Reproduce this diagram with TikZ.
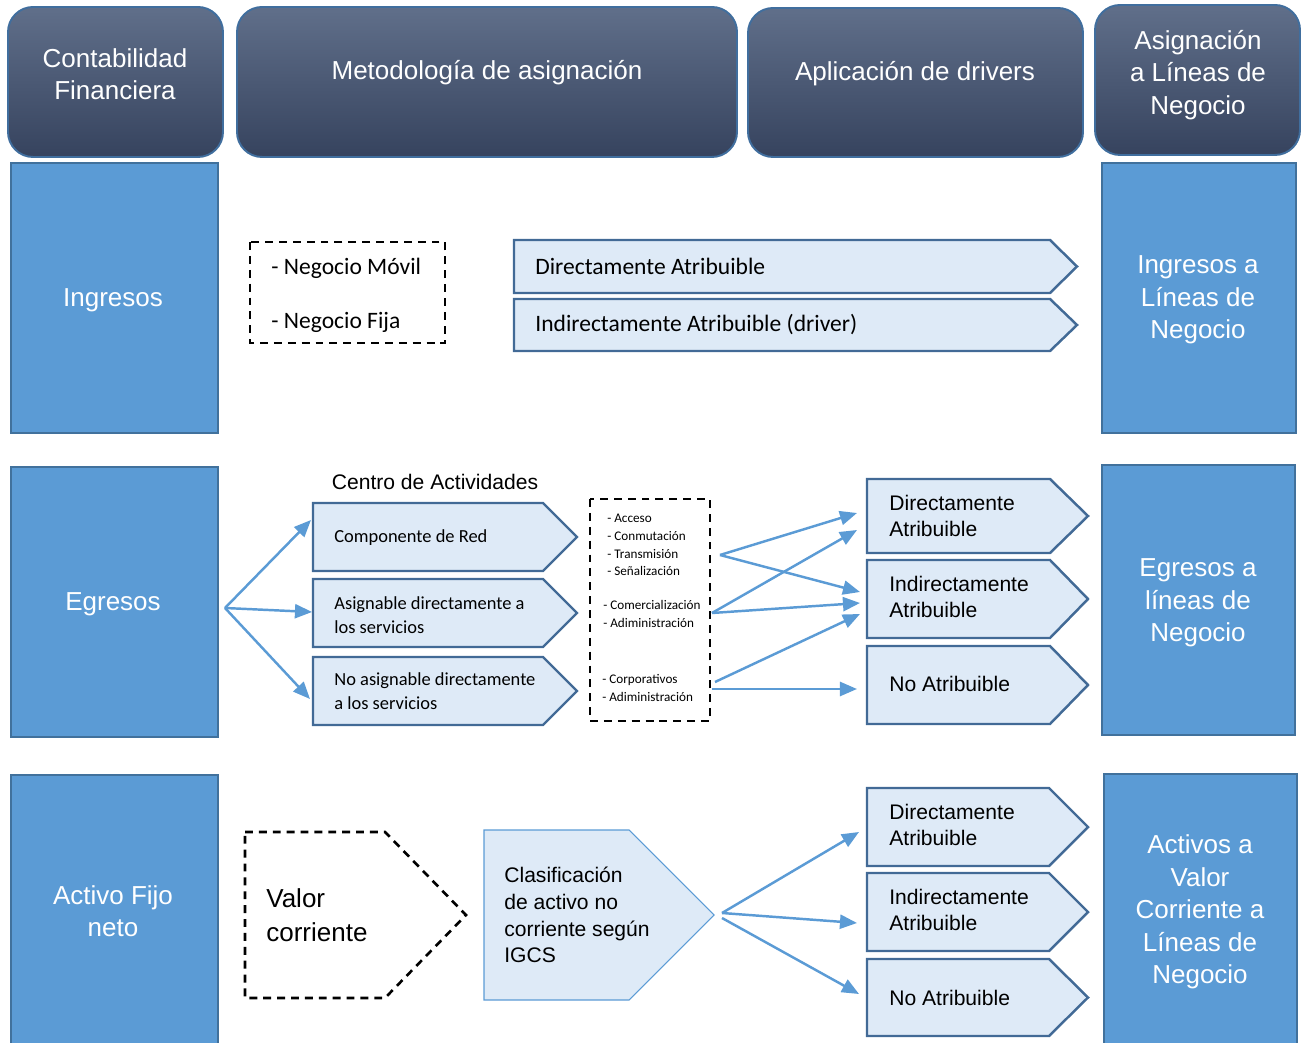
\documentclass[tikz,border=0pt]{standalone}
\usepackage{fontspec}
\setmainfont{Liberation Sans}
\newfontfamily\calibri{Carlito}
\usetikzlibrary{arrows.meta}

\definecolor{headtop}{RGB}{96,111,138}
\definecolor{headbot}{RGB}{54,67,94}
\definecolor{headline}{RGB}{64,110,158}
\definecolor{boxblue}{RGB}{91,155,213}
\definecolor{boxline}{RGB}{65,113,156}
\definecolor{chevfill}{RGB}{222,234,247}
\definecolor{chevline}{RGB}{66,106,150}

\def\chevron[#1](#2,#3)(#4,#5)(#6){\draw[#1] (#2,#3) -- (#6,#3) -- (#4,{(#3+#5)/2}) -- (#6,#5) -- (#2,#5) -- cycle;}

\tikzset{
	headbox/.style={draw=headline, line width=1.1pt, rounded corners=0.5cm, top color=headtop, bottom color=headbot},
	bluebox/.style={draw=boxline, line width=1.2pt, fill=boxblue},
	chevbox/.style={draw=chevline, line width=1.4pt, fill=chevfill},
	dashbox/.style={draw=black, line width=1.5pt, dash pattern=on 4.5pt off 3.4pt},
	headtext/.style={text=white, align=center, yshift=-1.7pt, font=\fontsize{14.8}{18.5}\selectfont},
	artext/.style={anchor=west, align=left, inner sep=0pt, font=\fontsize{12}{14.8}\selectfont},
	caltext/.style={anchor=west, align=left, inner sep=0pt, font=\calibri\fontsize{13.4}{16}\selectfont},
	calsmall/.style={anchor=west, align=left, inner sep=0pt, font=\calibri\fontsize{10.5}{13.7}\selectfont},
	caltiny/.style={anchor=west, align=left, inner sep=0pt, font=\calibri\fontsize{7.5}{10.1}\selectfont},
	arr/.style={draw=boxblue, line width=1.4pt, -{Triangle[length=9.7pt,width=8pt]}},
}

\begin{document}
\begin{tikzpicture}[x=0.02cm, y=-0.02cm]
		%%%%% START %%%%%
		\useasboundingbox (0,0) rectangle (1305,1043);
		\clip (0,0) rectangle (1305,1043);
		
		%%%%% HEADERS %%%%%
		\draw[headbox] (8,7) rectangle (223,157);
		\draw[headbox] (237,7) rectangle (737,157);
		\draw[headbox] (748,8) rectangle (1083,157);
		\draw[headbox] (1095,5) rectangle (1300,155);
		\node[headtext] (contab) at (115,71) {Contabilidad\\Financiera};
		\node[headtext] (metod) at (487,70) {Metodología de asignación};
		\node[headtext] (aplic) at (915,71) {Aplicación de drivers};
		\node[headtext] (asign) at (1198,72) {Asignación\\a Líneas de\\Negocio};
		
		%%%%% INGRESOS %%%%%
		\draw[bluebox] (11,163) rectangle (218,433);
		\node[headtext] (ingr) at (113,297) {Ingresos};
		\draw[dashbox] (250,242) rectangle (445,343);
		\node[caltext] (movil) at (271,268) {- Negocio Móvil};
		\node[caltext] (fija) at (271,322) {- Negocio Fija};
		\chevron[chevbox](514,240)(1077,293)(1050)
		\chevron[chevbox](514,299)(1077,351)(1050)
		\node[caltext] (directo) at (535,266) {Directamente Atribuible};
		\node[caltext] (indirecto) at (535,325) {Indirectamente Atribuible (driver)};
		\draw[bluebox] (1102,163) rectangle (1296,433);
		\node[headtext] (ingrlin) at (1198,297) {Ingresos a\\Líneas de\\Negocio};
		
		%%%%% EGRESOS %%%%%
		\draw[bluebox] (11,467) rectangle (218,737);
		\node[headtext] (egr) at (113,601) {Egresos};
		\node[font=\fontsize{12}{14.8}\selectfont] (centro) at (435,482) {Centro de Actividades};
		\chevron[chevbox](313,503)(577,571)(543)
		\chevron[chevbox](313,579)(577,647)(543)
		\chevron[chevbox](313,657)(577,725)(543)
		\node[calsmall] (compred) at (334,538) {Componente de Red};
		\node[calsmall] (asigdir) at (334,615) {Asignable directamente a\\los servicios};
		\node[calsmall] (noasig) at (334,691) {No asignable directamente\\a los servicios};
		
		\draw[dashbox] (590,499) rectangle (710,721);
		\node[caltiny] (red) at (607,545) {- Acceso\\- Conmutación\\- Transmisión\\- Señalización};
		\node[caltiny] (comer) at (603,614) {- Comercialización\\- Adiministración};
		\node[caltiny] (corp) at (602,688) {- Corporativos\\- Adiministración};
		
		\chevron[chevbox](867,479)(1088,553)(1050)
		\chevron[chevbox](867,560)(1088,638)(1050)
		\chevron[chevbox](867,646)(1088,724)(1050)
		\node[artext] (egdir) at (889,516) {Directamente\\Atribuible};
		\node[artext] (egind) at (889,597) {Indirectamente\\Atribuible};
		\node[artext] (egno) at (889,684) {No Atribuible};
		\draw[bluebox] (1102,465) rectangle (1295,735);
		\node[headtext] (egrlin) at (1198,600) {Egresos a\\líneas de\\Negocio};
		
		\coordinate (egfork) at (225,608);
		\coordinate (inRed) at (311,520);
		\coordinate (inAsig) at (312,612);
		\coordinate (inNoasig) at (310,699);
		\draw[arr] (egfork) -- (inRed);
		\draw[arr] (egfork) -- (inAsig);
		\draw[arr] (egfork) -- (inNoasig);
		
		\coordinate (outRed) at (720,555);
		\coordinate (outComer) at (712,613);
		\coordinate (outCorp) at (715,682);
		\coordinate (outAdm) at (712,689);
		\coordinate (inDirA) at (857,513);
		\coordinate (inDirB) at (857,530);
		\coordinate (inIndA) at (860,592);
		\coordinate (inIndB) at (860,603);
		\coordinate (inIndC) at (860,614);
		\coordinate (inNo) at (857,689);
		\draw[arr] (outRed) -- (inDirA);
		\draw[arr] (outRed) -- (inIndA);
		\draw[arr] (outComer) -- (inDirB);
		\draw[arr] (outComer) -- (inIndB);
		\draw[arr] (outCorp) -- (inIndC);
		\draw[arr] (outAdm) -- (inNo);
		
		%%%%% ACTIVO FIJO %%%%%
		\draw[bluebox] (11,775) rectangle (218,1060);
		\node[headtext] (activo) at (113,908) {Activo Fijo\\neto};
		\chevron[dashbox](245,832)(466,998)(385)
		\node[anchor=west, align=left, inner sep=0pt, font=\fontsize{14.8}{19.2}\selectfont] (valor) at (266,915) {Valor\\corriente};
		\chevron[draw=boxblue, line width=0.6pt, fill=chevfill](484,830)(714,1000)(629)
		\node[artext, font=\fontsize{12}{15.2}\selectfont] (clasif) at (504,915) {Clasificación\\de activo no\\corriente según\\IGCS};
		
		\chevron[chevbox](867,788)(1088,866)(1049)
		\chevron[chevbox](867,873)(1088,951)(1049)
		\chevron[chevbox](867,959)(1088,1036)(1049)
		\node[artext] (acdir) at (889,825) {Directamente\\Atribuible};
		\node[artext] (acind) at (889,910) {Indirectamente\\Atribuible};
		\node[artext] (acno) at (889,998) {No Atribuible};
		\draw[bluebox] (1104,774) rectangle (1297,1060);
		\node[headtext] (activolin) at (1200,909) {Activos a\\Valor\\Corriente a\\Líneas de\\Negocio};
		
		\coordinate (outClasA) at (722,913);
		\coordinate (outClasB) at (722,918);
		\coordinate (inAcDir) at (859,832);
		\coordinate (inAcInd) at (857,923);
		\coordinate (inAcNo) at (859,994);
		\draw[arr] (outClasA) -- (inAcDir);
		\draw[arr] (outClasA) -- (inAcInd);
		\draw[arr] (outClasB) -- (inAcNo);
		
		%%%%% END %%%%%
\end{tikzpicture}
\end{document}
